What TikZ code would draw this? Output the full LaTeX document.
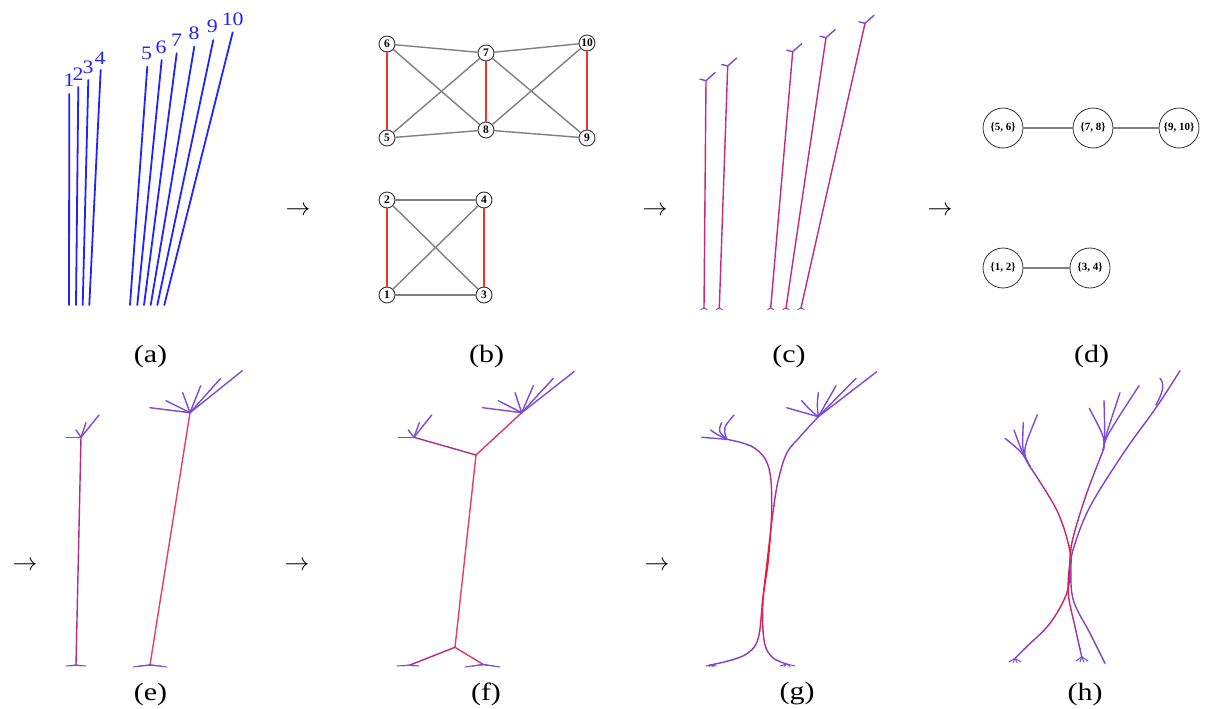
\documentclass[tikz,border=0pt]{standalone}
\usepackage{fontspec}
\setmainfont{Liberation Serif}
\definecolor{lblue}{RGB}{35,35,250}
\definecolor{ered}{RGB}{235,55,40}
\definecolor{egray}{RGB}{128,128,128}
\definecolor{fan}{RGB}{125,75,215}
\definecolor{crim}{RGB}{200,40,120}
\definecolor{pinkred}{RGB}{232,62,100}
\definecolor{mauve}{RGB}{175,45,135}
\definecolor{bA}{RGB}{125,70,210}
\definecolor{bB}{RGB}{150,55,175}
\definecolor{bC}{RGB}{180,45,140}
\definecolor{bD}{RGB}{215,35,95}
\definecolor{bE}{RGB}{235,25,60}
\begin{document}
\begin{tikzpicture}[x=1pt,y=-1pt,line cap=round,line join=round]
\tikzset{
 blueline/.style={lblue, line width=1.8pt},
 lbl/.style={text=lblue, font=\fontsize{19}{19}\selectfont, inner sep=0},
 capt/.style={font=\fontsize{25}{25}\selectfont, inner sep=0},
 arr/.style={font=\fontsize{26}{26}\selectfont, inner sep=0},
 gnode/.style={circle, draw=black!80, fill=white, line width=0.9pt, minimum size=16pt, inner sep=0, font=\bfseries\fontsize{11.5}{11.5}\selectfont},
 cnode/.style={circle, draw=black!80, fill=white, line width=0.8pt, minimum size=40pt, inner sep=0, font=\bfseries\fontsize{11}{11}\selectfont},
 redge/.style={ered, line width=2.8pt},
 gedge/.style={egray, line width=1.4pt},
 fanl/.style={fan, line width=1.4pt},
 stem/.style={line width=1.4pt},
}
\fill[white] (0,0) rectangle (1205,709);
\useasboundingbox (0,0) rectangle (1205,709);

% ---------------- (a)
\foreach \bx/\tx/\ty/\lx/\ly/\t in {69/69.3/94/69/80/1, 76/78.3/87/78/74/2, 82.7/88.3/80/88/67/3, 89.3/100.7/70/100/58/4,
 130/147.3/66.7/146.7/53.3/5, 137.3/161.7/60/161/47/6, 144/176.7/53.3/176.7/40/7, 150.7/194.3/46.7/194/33.3/8, 157.3/213.3/40/212.3/26.7/9, 164.3/232.7/32.3/232.7/19.5/10}{
 \coordinate (ab\t) at (\bx,305);
 \coordinate (at\t) at (\tx,\ty);
 \draw[blueline] (ab\t) -- (at\t);
 \node[lbl] (al\t) at (\lx,\ly) {\scalebox{1.15}[1]{\t}};
}

% ---------------- (b)
\node[gnode] (n6) at (387,44) {6};
\node[gnode] (n7) at (486,53) {7};
\node[gnode] (n10) at (587,43) {10};
\node[gnode] (n5) at (387,138) {5};
\node[gnode] (n8) at (486,130) {8};
\node[gnode] (n9) at (587,138) {9};
\node[gnode] (n2) at (387,200) {2};
\node[gnode] (n4) at (484,200) {4};
\node[gnode] (n1) at (387,295) {1};
\node[gnode] (n3) at (484,295) {3};
\draw[gedge] (n6) -- (n7); \draw[gedge] (n7) -- (n10);
\draw[gedge] (n6) -- (n8); \draw[gedge] (n5) -- (n7);
\draw[gedge] (n5) -- (n8); \draw[gedge] (n8) -- (n9);
\draw[gedge] (n7) -- (n9); \draw[gedge] (n8) -- (n10);
\draw[gedge] (n2) -- (n4); \draw[gedge] (n2) -- (n3);
\draw[gedge] (n1) -- (n4); \draw[gedge] (n1) -- (n3);
\draw[redge] (n6) -- (n5); \draw[redge] (n7) -- (n8); \draw[redge] (n10) -- (n9);
\draw[redge] (n2) -- (n1); \draw[redge] (n4) -- (n3);

% ---------------- (c)
\foreach \bx/\tx/\ty [count=\i] in {704/706/80.7, 719.3/727.7/66, 770.7/792.7/51.7, 786/826/37.7, 801/865/23.3}{
 \coordinate (cb\i) at (\bx,308);
 \coordinate (ct\i) at (\tx,\ty);
 \draw[stem, crim] (cb\i) -- (ct\i);
 \draw[fanl] (ct\i) -- ++(-6,-1.5);
 \draw[fanl] (ct\i) -- ++(9,-8);
 \draw[fan, line width=1pt] (cb\i) -- ++(-3,1.5);
 \draw[fan, line width=1pt] (cb\i) -- ++(3,1.5);
}

% ---------------- (d)
\node[cnode] (d56) at (1003,128) {\{5, 6\}};
\node[cnode] (d78) at (1093,128) {\{7, 8\}};
\node[cnode] (d910) at (1179,128) {\{9, 10\}};
\node[cnode] (d12) at (1003,268) {\{1, 2\}};
\node[cnode] (d34) at (1090,268) {\{3, 4\}};
\draw[gedge] (d56) -- (d78); \draw[gedge] (d78) -- (d910);
\draw[gedge] (d12) -- (d34);

% ---------------- (e)
\coordinate (eLb) at (76,665); \coordinate (eLt) at (81,437.3);
\coordinate (eRb) at (150,665); \coordinate (eRt) at (190,412.7);
\draw[stem, mauve] (eLb) -- (eLt);
\draw[stem, pinkred] (eRb) -- (eRt);
\foreach \p in {(66,437.3),(76,430),(86,422.7),(99,415)} \draw[fanl] (eLt) -- \p;
\foreach \p in {(150,407.7),(166,400.7),(182.7,392.7),(200.7,385.7),(220.7,378.3),(242.3,370.7)} \draw[fanl] (eRt) -- \p;
\foreach \p in {(66,666),(71,666),(81,666),(86,666)} \draw[fan, line width=1pt] (eLb) -- \p;
\foreach \p in {(133,667),(139,666),(145,665.5),(155,665.5),(161,666),(167,667)} \draw[fan, line width=1pt] (eRb) -- \p;

% ---------------- (f)
\coordinate (fJ1) at (476,455); \coordinate (fJ2) at (455,647.3);
\coordinate (fL) at (414,437.3); \coordinate (fR) at (521.7,412.7);
\coordinate (fBL) at (410,665); \coordinate (fBR) at (483.3,664.5);
\draw[stem, pinkred] (fJ2) -- (fJ1);
\draw[stem, mauve] (fJ1) -- (fL);
\draw[stem, pinkred!70!mauve] (fJ1) -- (fR);
\draw[stem, mauve] (fJ2) -- (fBL);
\draw[stem, pinkred!70!mauve] (fJ2) -- (fBR);
\foreach \p in {(398.3,437.3),(408.3,430),(419.3,422.7),(431.7,415)} \draw[fanl] (fL) -- \p;
\foreach \p in {(482.7,407.7),(498.3,400.7),(515,392.7),(533.3,385.7),(553.3,378.3),(574,371.7)} \draw[fanl] (fR) -- \p;
\foreach \p in {(397,666),(403,666),(414,666),(419,666)} \draw[fan, line width=1pt] (fBL) -- \p;
\foreach \p in {(465,667),(472,666),(479,665.5),(488,665.5),(494,666),(500,667)} \draw[fan, line width=1pt] (fBR) -- \p;

% ---------------- (g)
\coordinate (gL) at (726.7,439.3); \coordinate (gR) at (818.3,416.7);
\coordinate (gBL) at (710,665); \coordinate (gBR) at (786.7,664);
\foreach \ya/\yb/\cc in {360/445/bA, 445/470/bB, 470/505/bC, 505/540/bD, 540/605/bE, 605/630/bD, 630/648/bC, 648/660/bB, 660/680/bA}{
 \begin{scope}
 \clip (680,\ya) rectangle (900,\yb);
 \draw[stem, \cc] plot[smooth, tension=0.6] coordinates {(726.7,439.3) (753.3,447.3) (768.5,466.7) (771.7,506.7) (768.3,560) (763,600) (764,640) (772,657) (786.7,664)};
 \draw[stem, \cc] plot[smooth, tension=0.6] coordinates {(818.3,416.7) (800,436.7) (786.7,453.3) (778.3,480) (773.3,510) (767.3,560) (762.7,600) (758.3,638) (748,653) (730,660.5) (710,665)};
 \end{scope}
}
\draw[fanl] (gL) -- (701.7,437.3);
\draw[fanl] (gL) .. controls (716,434) .. (710.7,430);
\draw[fanl] (gL) .. controls (718,431) .. (721.7,422.7);
\draw[fanl] (gL) .. controls (723,428) .. (734,415);
\draw[fanl] (gR) .. controls (805,413) .. (786.7,407.7);
\draw[fanl] (gR) .. controls (810,410) .. (801.7,400.7);
\draw[fanl] (gR) .. controls (817,405) .. (818.3,392.7);
\draw[fanl] (gR) -- (836,385.7);
\draw[fanl] (gR) -- (856,378.3);
\draw[fanl] (gR) -- (876.7,371.7);
\foreach \p in {(706,666),(709,666.5),(713,666.5),(716,666)} \draw[fan, line width=1pt] (gBL) -- \p;
\foreach \p in {(780,666),(784,666.5),(790,666.5),(795,666)} \draw[fan, line width=1pt] (gBR) -- \p;

% ---------------- (h)
\coordinate (hC1) at (1030,466.7); \coordinate (hC2) at (1103.3,450);
\coordinate (hB1) at (1015,658.3); \coordinate (hB2) at (1081.7,656.7); \coordinate (hB3) at (1105,663.3);
\foreach \ya/\yb/\cc in {360/455/bA, 455/490/bB, 490/520/bC, 520/545/bD, 545/590/bE, 590/610/bD, 610/630/bC, 630/648/bB, 648/680/bA}{
 \begin{scope}
 \clip (960,\ya) rectangle (1205,\yb);
 \draw[stem, \cc] plot[smooth, tension=0.6] coordinates {(1030,466.7) (1056.7,510) (1069,546.7) (1070,566.7) (1066.7,593.3) (1050,623.3) (1026.7,646.7) (1015,658.3)};
 \draw[stem, \cc] plot[smooth, tension=0.6] coordinates {(1103.3,450) (1086.7,493.3) (1073.3,536.7) (1070,560) (1068.3,593.3) (1075,626.7) (1081.7,656.7)};
 \end{scope}
}
\draw[stem, bA!70!bB] plot[smooth, tension=0.6] coordinates {(1180,370.7) (1156.7,406.7) (1123.3,453.3) (1090,506.7) (1074,546.7) (1071,566.7) (1073.3,600) (1090,633.3) (1105,663.3)};
\draw[fanl] (1160,378.3) .. controls (1165,384) and (1163,392) .. (1156,405);
\foreach \p in {(1005,438.3),(1014,430),(1023.3,422.7),(1037.3,415)} \draw[fanl] (hC1) .. controls (1022,452) .. \p;
\foreach \p in {(1089.3,408.3),(1104,400.7),(1120,392.7),(1139,385.7)} \draw[fanl] (hC2) .. controls (1105,438) .. \p;
\foreach \p in {(1009,662),(1013,662.5),(1017,662.5),(1021,662)} \draw[fan, line width=1pt] (hB1) -- \p;
\foreach \p in {(1076,661),(1080,662),(1084,662),(1088,661)} \draw[fan, line width=1pt] (hB2) -- \p;

% ---------------- arrows
\node[arr] (ar1) at (298,211) {$\rightarrow$};
\node[arr] (ar2) at (655,211) {$\rightarrow$};
\node[arr] (ar3) at (940,211) {$\rightarrow$};
\node[arr] (ar4) at (25,566) {$\rightarrow$};
\node[arr] (ar5) at (297,566) {$\rightarrow$};
\node[arr] (ar6) at (657,566) {$\rightarrow$};

% ---------------- captions
\node[capt] (ca) at (150.5,356) {\scalebox{1.2}[1]{(a)}};
\node[capt] (cb) at (486.5,356) {\scalebox{1.2}[1]{(b)}};
\node[capt] (cc) at (789,356) {\scalebox{1.2}[1]{(c)}};
\node[capt] (cd) at (1091.5,356) {\scalebox{1.2}[1]{(d)}};
\node[capt] (ce) at (150.5,694) {\scalebox{1.2}[1]{(e)}};
\node[capt] (cf) at (486,694) {\scalebox{1.2}[1]{(f)}};
\node[capt] (cg) at (797,694) {\scalebox{1.2}[1]{(g)}};
\node[capt] (ch) at (1085,694) {\scalebox{1.2}[1]{(h)}};
\end{tikzpicture}
\end{document}
